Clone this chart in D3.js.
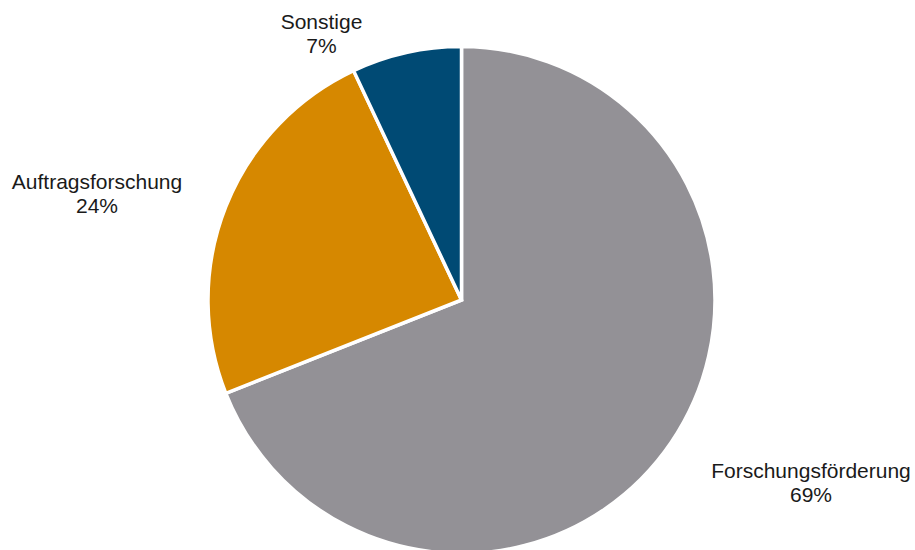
<!DOCTYPE html>
<html>
<head>
<meta charset="utf-8">
<script src="https://cdn.jsdelivr.net/npm/d3@7"></script>
<style>
  html, body { margin: 0; padding: 0; background: #fff; }
  svg text { font-family: "Liberation Sans", Arial, sans-serif; fill: #1a1a1a; }
</style>
</head>
<body>
<svg id="chart" width="915" height="550"></svg>
<script>
// Funding sources, in percent
const categories = ["Forschungsförderung", "Auftragsforschung", "Sonstige"];
const values = [69, 24, 7];
const colors = ["#939196", "#D68800", "#004A74"];

const width = 915, height = 550;
const cx = 461.5, cy = 300, radius = 253.5;

const svg = d3.select("#chart");
const g = svg.append("g").attr("transform", `translate(${cx},${cy})`);

const data = categories.map((c, i) => ({ name: c, value: values[i], color: colors[i] }));

const pie = d3.pie().value(d => d.value).sort(null);
const arc = d3.arc().innerRadius(0).outerRadius(radius);
const arcs = pie(data);

g.selectAll("path.slice")
  .data(arcs)
  .join("path")
  .attr("class", "slice")
  .attr("d", arc)
  .attr("fill", d => d.data.color)
  .attr("stroke", "#fff")
  .attr("stroke-width", 3.5)
  .attr("stroke-linejoin", "miter");

// Labels outside the pie, two lines each (name, percentage)
const labelPos = {
  "Forschungsförderung": [811, 478],
  "Auftragsforschung": [97, 189],
  "Sonstige": [321.5, 29]
};
const fmt = d => `${d}%`;

arcs.forEach(a => {
  const [x, y] = labelPos[a.data.name];
  const t = svg.append("text")
    .attr("x", x)
    .attr("y", y)
    .attr("text-anchor", "middle")
    .style("font-size", "21px");
  t.append("tspan").attr("x", x).attr("dy", 0).text(a.data.name);
  t.append("tspan").attr("x", x).attr("dy", 23.5).text(fmt(a.data.value));
});
</script>
</body>
</html>
